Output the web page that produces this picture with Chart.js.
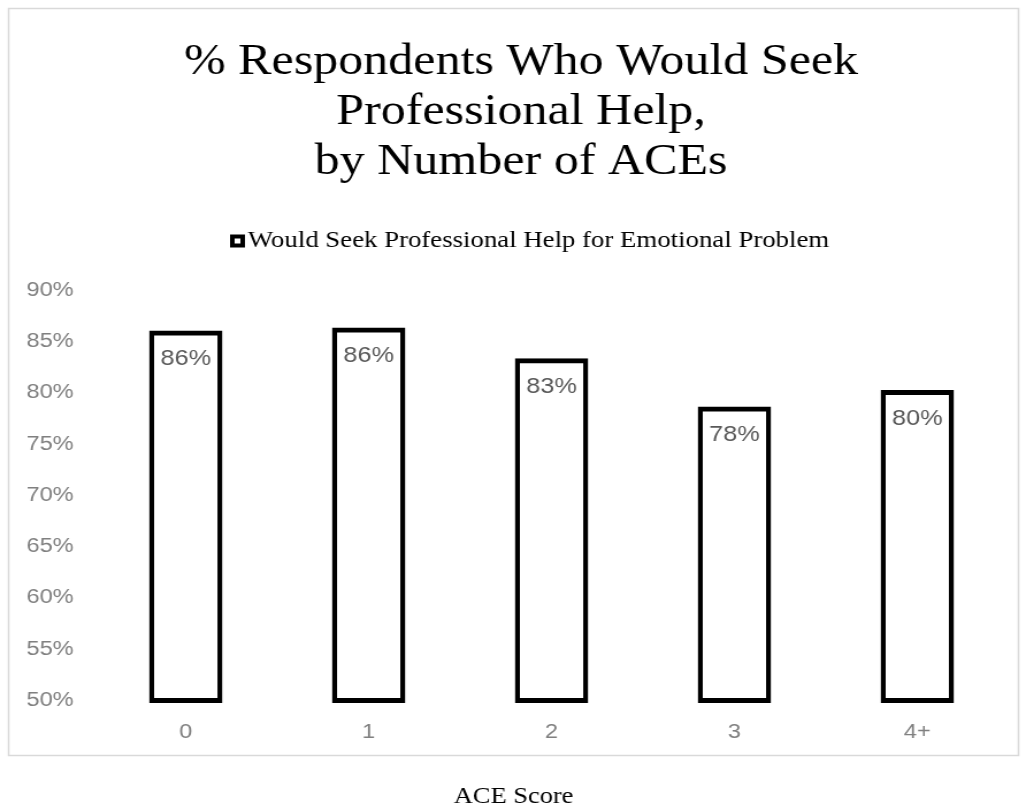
<!DOCTYPE html>
<html>
<head>
<meta charset="utf-8">
<script src="https://cdn.jsdelivr.net/npm/chart.js@4/dist/chart.umd.min.js"></script>
<style>
  html, body { margin: 0; padding: 0; background: #ffffff; overflow: hidden; }
  /* the chart is laid out on a narrower canvas and widened to the page width */
  #wrap { width: 892px; height: 811px; transform: scaleX(1.1502); transform-origin: 0 0; }
  #c { display: block; }
</style>
</head>
<body>
<div id="wrap"><canvas id="c" width="892" height="811"></canvas></div>
<script>
// ACE score groups and share of respondents who would seek professional help
const categories = ['0', '1', '2', '3', '4+'];
const seekHelp = [0.858, 0.861, 0.831, 0.784, 0.800];
const valueLabels = ['86%', '86%', '83%', '78%', '80%'];
const yTicks = [0.50, 0.55, 0.60, 0.65, 0.70, 0.75, 0.80, 0.85, 0.90];

const chartTitle = ['% Respondents Who Would Seek', 'Professional Help,', 'by Number of ACEs'];
const seriesName = 'Would Seek Professional Help for Emotional Problem';
const xAxisTitle = 'ACE Score';

const SERIF = "'Liberation Serif', 'Times New Roman', serif";
const SANS = "'Liberation Sans', Arial, sans-serif";

// light grey frame around the chart body
const framePlugin = {
  id: 'frame',
  beforeDraw(chart) {
    const ctx = chart.ctx;
    ctx.save();
    ctx.fillStyle = '#ffffff';
    ctx.fillRect(0, 0, chart.width, chart.height);
    ctx.strokeStyle = '#d9d9d9';
    ctx.lineWidth = 1.5;
    ctx.strokeRect(7.5, 8.5, 878, 747);
    ctx.restore();
  }
};

// three-line heading, single-entry key and the axis caption below the frame
const headingPlugin = {
  id: 'heading',
  afterDraw(chart) {
    const ctx = chart.ctx;
    ctx.save();
    ctx.fillStyle = '#000000';
    ctx.textBaseline = 'middle';

    // heading
    ctx.textAlign = 'center';
    ctx.font = '43.5px ' + SERIF;
    chartTitle.forEach((line, i) => ctx.fillText(line, 453, 63 + i * 50));

    // key: hollow square marker followed by the series name
    const cy = 241, x0 = 200;
    ctx.strokeStyle = '#000000';
    ctx.lineWidth = 4;
    ctx.fillStyle = '#ffffff';
    ctx.fillRect(x0 + 2, cy - 4.5, 9, 9);
    ctx.strokeRect(x0 + 2, cy - 4.5, 9, 9);
    ctx.fillStyle = '#000000';
    ctx.textAlign = 'left';
    ctx.font = '23.3px ' + SERIF;
    ctx.fillText(chart.data.datasets[0].label, x0 + 15.5, cy);

    // caption for the category axis
    ctx.textAlign = 'center';
    ctx.font = '23px ' + SERIF;
    ctx.fillText(xAxisTitle, 446.5, 797);
    ctx.restore();
  }
};

// value labels just inside the top of each bar
const valueLabelPlugin = {
  id: 'valueLabels',
  afterDatasetsDraw(chart) {
    const ctx = chart.ctx;
    const meta = chart.getDatasetMeta(0);
    ctx.save();
    ctx.font = '22px ' + SANS;
    ctx.fillStyle = '#595959';
    ctx.textAlign = 'center';
    ctx.textBaseline = 'middle';
    meta.data.forEach((bar, i) => {
      ctx.fillText(valueLabels[i], bar.x, bar.y + 26);
    });
    ctx.restore();
  }
};

new Chart(document.getElementById('c'), {
  type: 'bar',
  data: {
    labels: categories,
    datasets: [{
      label: seriesName,
      data: seekHelp,
      base: 0.5,
      backgroundColor: '#ffffff',
      borderColor: '#000000',
      borderWidth: { top: 5, bottom: 5, left: 4.4, right: 4.4 },
      borderSkipped: false,
      inflateAmount: 2.5,   // centre the outline on the bar edge
      clip: 10,
      barPercentage: 0.37,
      categoryPercentage: 1.0
    }]
  },
  options: {
    responsive: false,
    animation: false,
    layout: { padding: { left: 5, right: 15, top: 290, bottom: 46 } },
    plugins: {
      title: { display: false },
      legend: { display: false },
      tooltip: { enabled: false }
    },
    scales: {
      y: {
        min: 0.5,
        max: 0.9,
        afterBuildTicks(scale) {
          scale.ticks = yTicks.map(v => ({ value: v }));
        },
        ticks: {
          color: '#808080',
          font: { family: SANS, size: 20.5 },
          padding: 18,
          callback: v => Math.round(v * 100) + '%'
        },
        grid: { display: false, drawTicks: false },
        border: { display: false }
      },
      x: {
        ticks: {
          color: '#808080',
          font: { family: SANS, size: 20.5 },
          padding: 20
        },
        grid: { display: false, drawTicks: false },
        border: { display: false }
      }
    }
  },
  plugins: [framePlugin, valueLabelPlugin, headingPlugin]
});
</script>
</body>
</html>
